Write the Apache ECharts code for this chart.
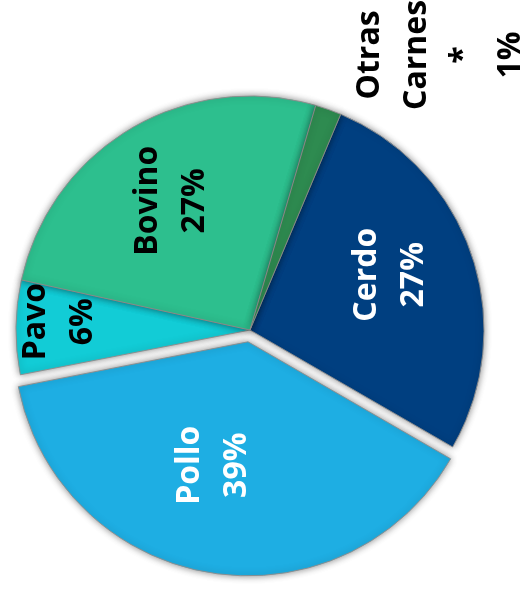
<!DOCTYPE html>
<html>
<head>
<meta charset="utf-8">
<script src="https://cdn.jsdelivr.net/npm/echarts@6/dist/echarts.min.js"></script>
<style>
html,body{margin:0;padding:0;background:#fff;}
#c{width:527px;height:590px;}
</style>
</head>
<body>
<div id="c"></div>
<script>
// ---- data ----
const categories = ['Cerdo', 'Pollo', 'Pavo', 'Bovino', 'Otras Carnes *'];
const shares = [27.0, 38.6, 6.5, 26.1, 1.8];
const percentLabels = ['27%', '39%', '6%', '27%', '1%'];

// ---- styling ----
const sliceColors = ['#003f80', '#1eaee3', '#12ccd6', '#2dbf8e', '#2e8b50'];
const labelColors = ['#ffffff', '#ffffff', '#000000', '#000000', '#000000'];
const explodedCategory = 'Pollo';
// screen-space label nudges (x, y) from the default inside position
const labelNudge = {
  'Cerdo': [27, -17],
  'Pollo': [-15, 5],
  'Pavo': [-71, -7],
  'Bovino': [-17, -26],
  'Otras Carnes *': [150, -162]
};

const chart = echarts.init(document.getElementById('c'), null, {renderer: 'canvas'});

const baseItemStyle = {
  borderColor: 'rgba(140,140,140,0.9)',
  borderWidth: 1,
  shadowBlur: 7,
  shadowColor: 'rgba(0,0,0,0.45)'
};

const data = categories.map((name, i) => ({
  name: name,
  value: shares[i],
  selected: name === explodedCategory,
  itemStyle: Object.assign({color: sliceColors[i]}, baseItemStyle),
  select: {itemStyle: Object.assign({color: sliceColors[i]}, baseItemStyle), label: {color: labelColors[i]}},
  label: {color: labelColors[i]}
}));

chart.setOption({
  animation: false,
  backgroundColor: '#ffffff',
  series: [{
    type: 'pie',
    center: [250, 330],
    radius: [0, 234],
    startAngle: 67.2,
    clockwise: true,
    selectedMode: 'single',
    selectedOffset: 12,
    avoidLabelOverlap: false,
    data: data,
    label: {
      show: true,
      position: 'inside',
      rotate: 90,
      fontFamily: 'Open Sans',
      fontWeight: 'bold',
      fontSize: 32,
      lineHeight: 47,
      align: 'center',
      formatter: (p) => p.name.split(' ').join('\n') + '\n' + percentLabels[p.dataIndex]
    },
    labelLine: {show: false},
    labelLayout: (params) => {
      const n = labelNudge[categories[params.dataIndex]] || [0, 0];
      // label is rotated 90deg, so offsets are given in its local frame
      return {dx: -n[1], dy: n[0]};
    },
    emphasis: {disabled: true}
  }]
});
</script>
</body>
</html>
